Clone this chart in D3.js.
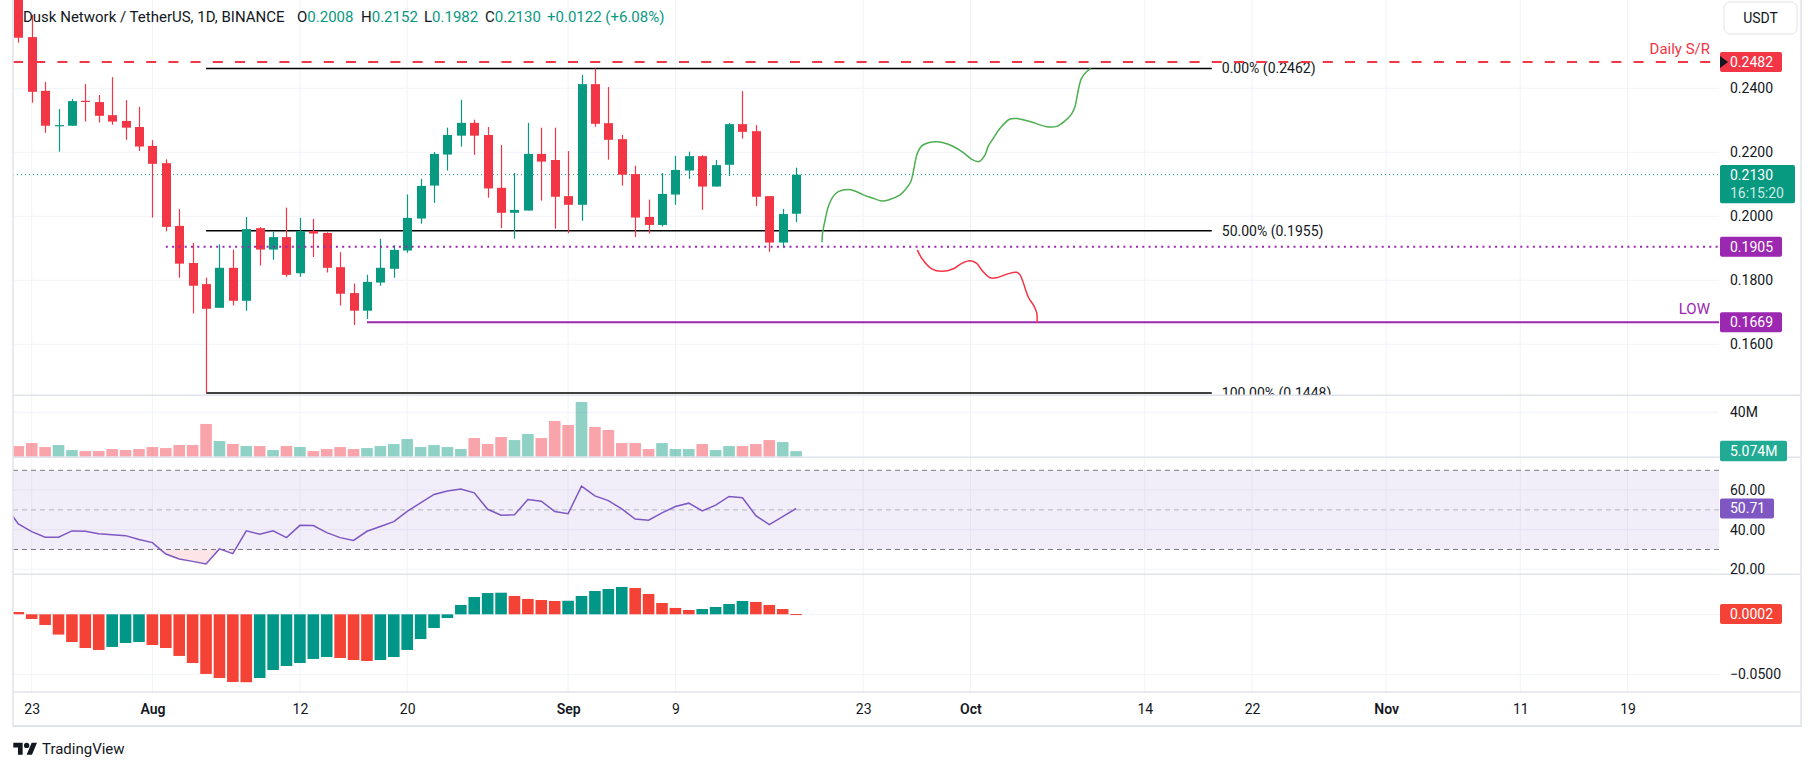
<!DOCTYPE html>
<html><head><meta charset="utf-8">
<script src="https://cdn.jsdelivr.net/npm/d3@7"></script>
<style>
body{margin:0;background:#fff;}
svg{display:block;font-family:Roboto,"Noto Sans",sans-serif;}
</style>
</head><body>
<svg id="c" width="1814" height="771"></svg>
<script>
// ---------------- DATA ----------------
const dates = ["2024-07-21","2024-07-22","2024-07-23","2024-07-24","2024-07-25","2024-07-26","2024-07-27","2024-07-28","2024-07-29","2024-07-30","2024-07-31",
"2024-08-01","2024-08-02","2024-08-03","2024-08-04","2024-08-05","2024-08-06","2024-08-07","2024-08-08","2024-08-09","2024-08-10",
"2024-08-11","2024-08-12","2024-08-13","2024-08-14","2024-08-15","2024-08-16","2024-08-17","2024-08-18","2024-08-19","2024-08-20",
"2024-08-21","2024-08-22","2024-08-23","2024-08-24","2024-08-25","2024-08-26","2024-08-27","2024-08-28","2024-08-29","2024-08-30","2024-08-31",
"2024-09-01","2024-09-02","2024-09-03","2024-09-04","2024-09-05","2024-09-06","2024-09-07","2024-09-08","2024-09-09","2024-09-10",
"2024-09-11","2024-09-12","2024-09-13","2024-09-14","2024-09-15","2024-09-16","2024-09-17","2024-09-18"];
const open = [0.2790,0.2720,0.2560,0.2392,0.2283,0.2283,0.2361,0.2357,0.2316,0.2298,0.2279,
0.2220,0.2166,0.1970,0.1854,0.1788,0.1714,0.1839,0.1736,0.1963,0.1896,
0.1935,0.1822,0.1954,0.1948,0.1841,0.1760,0.1705,0.1793,0.1836,0.1893,
0.1993,0.2096,0.2193,0.2252,0.2292,0.2254,0.2089,0.2011,0.2018,0.2195,0.2176,
0.2063,0.2036,0.2413,0.2291,0.2241,0.2132,0.1998,0.1973,0.2068,0.2143,
0.2188,0.2093,0.2161,0.2288,0.2266,0.2063,0.1918,0.2008];
const high = [0.2820,0.2760,0.2629,0.2420,0.2335,0.2367,0.2413,0.2379,0.2435,0.2363,0.2342,
0.2238,0.2178,0.2023,0.1917,0.1808,0.1912,0.1896,0.1998,0.1966,0.1953,
0.2027,0.1995,0.1992,0.1950,0.1888,0.1790,0.1817,0.1930,0.1910,0.2068,
0.2117,0.2201,0.2277,0.2364,0.2302,0.2279,0.2223,0.2135,0.2292,0.2277,0.2277,
0.2204,0.2442,0.2462,0.2404,0.2254,0.2158,0.2052,0.2135,0.2189,0.2202,
0.2191,0.2176,0.2292,0.2391,0.2285,0.2063,0.2023,0.2152];
const low = [0.2690,0.2543,0.2355,0.2261,0.2202,0.2283,0.2296,0.2293,0.2286,0.2239,0.2204,
0.1996,0.1953,0.1808,0.1696,0.1448,0.1714,0.1721,0.1705,0.1846,0.1864,
0.1811,0.1811,0.1873,0.1824,0.1721,0.1660,0.1679,0.1783,0.1808,0.1886,
0.1977,0.2042,0.2143,0.2218,0.2192,0.2058,0.1963,0.1930,0.2018,0.2049,0.1961,
0.1947,0.1986,0.2280,0.2177,0.2096,0.1935,0.1946,0.1968,0.2036,0.2117,
0.2020,0.2093,0.2126,0.2243,0.2032,0.1889,0.1902,0.1982];
const close = [0.2720,0.2558,0.2389,0.2283,0.2285,0.2360,0.2358,0.2314,0.2296,0.2277,0.2218,
0.2164,0.1967,0.1852,0.1783,0.1711,0.1839,0.1736,0.1960,0.1896,0.1935,
0.1817,0.1954,0.1946,0.1839,0.1758,0.1705,0.1795,0.1839,0.1895,0.1995,
0.2095,0.2195,0.2254,0.2292,0.2252,0.2087,0.2011,0.2020,0.2195,0.2171,0.2061,
0.2036,0.2413,0.2289,0.2239,0.2130,0.1996,0.1973,0.2070,0.2145,0.2188,
0.2093,0.2160,0.2288,0.2264,0.2061,0.1918,0.2007,0.2130];
const volumeM = [12.0,9.6,12.3,8.7,10.5,6.0,5.1,5.1,6.9,6.0,6.9,
8.7,7.8,10.5,10.5,29.5,14.1,11.4,9.6,9.6,6.0,
9.6,8.7,5.1,6.9,8.7,6.9,7.8,9.6,11.4,15.9,
8.7,10.5,8.7,6.9,16.8,11.4,17.7,15.0,20.5,16.8,32.2,
28.6,49.3,26.8,24.1,12.3,12.3,6.9,12.3,6.9,6.9,
11.4,6.0,9.6,9.6,11.4,15.0,13.2,5.074];
const rsi = [52.3,42.9,39.0,36.2,36.2,39.4,39.2,38.0,37.5,37.0,35.1,
33.5,27.7,25.2,24.0,22.7,30.3,27.9,39.4,37.7,39.4,
36.0,42.2,42.1,38.5,36.0,34.6,39.2,41.6,44.1,49.3,
53.5,57.8,59.5,60.6,58.6,50.3,47.3,47.5,55.2,54.4,49.2,
48.1,62.0,57.1,54.7,50.5,45.4,44.8,48.5,51.7,53.4,
49.5,52.4,56.8,56.1,47.1,42.6,46.6,50.71];
const macdHist = [0.0045,0.0019,-0.0039,-0.0089,-0.0169,-0.0231,-0.0281,-0.0297,-0.0272,-0.0239,-0.0231,
-0.0256,-0.0281,-0.0347,-0.0406,-0.0497,-0.0531,-0.0564,-0.0566,-0.0531,-0.0464,
-0.0431,-0.0406,-0.0372,-0.0356,-0.0364,-0.0381,-0.0389,-0.0381,-0.0356,-0.0297,
-0.0206,-0.0114,-0.0031,0.0078,0.0144,0.0177,0.0180,0.0153,0.0128,0.0119,0.0111,
0.0113,0.0153,0.0194,0.0211,0.0228,0.0219,0.0169,0.0094,0.0053,0.0036,
0.0044,0.0061,0.0086,0.0111,0.0103,0.0078,0.0044,0.0002];

const priceTicks = [0.16,0.18,0.20,0.22,0.24];
const volTicks = [40];
const rsiTicks = [20,40,60];
const macdTicks = [-0.05,0];
const timeTicks = ["2024-07-23","2024-08-01","2024-08-12","2024-08-20","2024-09-01","2024-09-09","2024-09-23","2024-10-01","2024-10-14","2024-10-22","2024-11-01","2024-11-11","2024-11-19"];
const timeTickLabels = ["23","Aug","12","20","Sep","9","23","Oct","14","22","Nov","11","19"];
const timeTickBold = [false,true,false,false,true,false,false,true,false,false,true,false,false];

// Fibonacci retracement
const fibLabels = ["0.00% (0.2462)","50.00% (0.1955)","100.00% (0.1448)"];
const fibPrices = [0.2462,0.1955,0.1448];
const fibStart = "2024-08-05", fibEnd = "2024-10-19";
// horizontal levels
const srLevel = 0.2482;
const supportLevel = 0.1905, supportStart = "2024-08-02";
const lowLevel = 0.1669, lowStart = "2024-08-17";
const lastPrice = 0.2130;
// projection paths (days after curveBase, price)
const curveBase = "2024-07-23";
const bullDays = [58.93,58.98,59.16,59.40,59.78,60.15,60.90,61.39,62.01,62.64,63.38,63.88,64.75,65.12,65.55,65.74,66.04,66.37,66.86,67.49,67.98,68.73,69.47,70.10,70.64,71.09,71.34,71.71,72.21,72.95,73.57,74.44,75.69,76.44,77.05,77.55,77.80,77.97,78.25,78.55,78.97];
const bullPrices = [0.1919,0.1949,0.1988,0.2030,0.2063,0.2077,0.2084,0.2079,0.2067,0.2058,0.2048,0.2051,0.2067,0.2082,0.2108,0.2139,0.2197,0.2220,0.2230,0.2233,0.2230,0.2218,0.2199,0.2178,0.2171,0.2192,0.2220,0.2244,0.2275,0.2304,0.2305,0.2296,0.2280,0.2281,0.2298,0.2320,0.2343,0.2379,0.2428,0.2447,0.2462];
const bearDays = [66.04,66.37,67.11,67.86,68.73,69.35,69.97,70.47,70.84,71.46,71.96,72.71,73.45,73.70,74.32,74.69,74.94,74.97];
const bearPrices = [0.1895,0.1869,0.1836,0.1828,0.1836,0.1853,0.1861,0.1853,0.1832,0.1808,0.1808,0.1819,0.1825,0.1817,0.1747,0.1723,0.1699,0.1667];

// ---------------- LAYOUT ----------------
const L = 13, R = 1719, AX = 1801;
const panes = {price:[0,395.3], vol:[395.3,457.3], rsi:[457.3,574.3], macd:[574.3,692]};
const UP = "#089981", DN = "#F23645";
const svg = d3.select("#c");
const parse = s => new Date(s + "T00:00:00Z");
const DAY = 86400000;

const x = d3.scaleUtc().domain([parse("2024-07-23"), parse("2024-09-09")]).range([31.7, 675.4]);
const dayW = x(parse("2024-07-24")) - x(parse("2024-07-23"));
const yP = d3.scaleLinear().domain([0.16,0.24]).range([344.3,88.3]);
const yV = d3.scaleLinear().domain([0,40]).range([456.7,412.3]);
const yR = d3.scaleLinear().domain([20,70]).range([569.3,470.3]);
const yM = d3.scaleLinear().domain([-0.05,0]).range([674.3,614.3]);

const data = dates.map((d,i)=>({date:parse(d),o:open[i],h:high[i],l:low[i],c:close[i],v:volumeM[i],r:rsi[i],m:macdHist[i],pm:i>0?macdHist[i-1]:macdHist[i]}));

const defs = svg.append("defs");
Object.entries(panes).forEach(([k,[a,b]])=>{
  defs.append("clipPath").attr("id","clip-"+k).append("rect").attr("x",L).attr("y",a).attr("width",R-L).attr("height",b-a);
});
defs.append("clipPath").attr("id","clip-os").append("rect").attr("x",L).attr("y",yR(30)).attr("width",R-L).attr("height",100);

// ---------------- GRID ----------------
const grid = svg.append("g").attr("stroke","#f0f3fa").attr("stroke-width",1);
timeTicks.forEach(t=>{
  grid.append("line").attr("x1",x(parse(t))).attr("x2",x(parse(t))).attr("y1",0).attr("y2",692);
});
priceTicks.forEach(v=>grid.append("line").attr("x1",L).attr("x2",R).attr("y1",yP(v)).attr("y2",yP(v)));
volTicks.forEach(v=>grid.append("line").attr("x1",L).attr("x2",R).attr("y1",yV(v)).attr("y2",yV(v)));
rsiTicks.forEach(v=>grid.append("line").attr("x1",L).attr("x2",R).attr("y1",yR(v)).attr("y2",yR(v)));
macdTicks.forEach(v=>grid.append("line").attr("x1",L).attr("x2",R).attr("y1",yM(v)).attr("y2",yM(v)));

// ---------------- PRICE PANE ----------------
const gp = svg.append("g").attr("clip-path","url(#clip-price)");
// current price dotted
gp.append("line").attr("x1",L).attr("x2",R).attr("y1",yP(lastPrice)).attr("y2",yP(lastPrice))
  .attr("stroke",UP).attr("stroke-width",1).attr("stroke-dasharray","1,3");
// fib lines
fibPrices.forEach((p,i)=>{
  gp.append("line").attr("x1",x(parse(fibStart))).attr("x2",x(parse(fibEnd))).attr("y1",yP(p)).attr("y2",yP(p))
    .attr("stroke","#000").attr("stroke-width",1.5);
  gp.append("text").attr("x",x(parse(fibEnd))+10).attr("y",yP(p)).attr("dy","0.35em")
    .attr("font-size",14).attr("fill","#131722").text(fibLabels[i]);
});
// candles
const cg = gp.append("g");
data.forEach(d=>{
  const col = d.c>=d.o?UP:DN;
  const cx = Math.round(x(d.date))+0.5;
  cg.append("line").attr("x1",cx).attr("x2",cx).attr("y1",yP(d.h)).attr("y2",yP(d.l)).attr("stroke",col).attr("stroke-width",1.2);
  const top = yP(Math.max(d.o,d.c)), bot = yP(Math.min(d.o,d.c));
  cg.append("rect").attr("x",cx-4.5).attr("y",top).attr("width",9).attr("height",Math.max(1.2,bot-top)).attr("fill",col);
});
// support dotted purple
gp.append("line").attr("x1",x(parse(supportStart))).attr("x2",R).attr("y1",yP(supportLevel)).attr("y2",yP(supportLevel))
  .attr("stroke","#9c27b0").attr("stroke-width",2).attr("stroke-dasharray","2,4.3");
// low line
gp.append("line").attr("x1",x(parse(lowStart))).attr("x2",R).attr("y1",yP(lowLevel)).attr("y2",yP(lowLevel))
  .attr("stroke","#9c27b0").attr("stroke-width",2);
// S/R dashed
gp.append("line").attr("x1",L).attr("x2",R).attr("y1",yP(srLevel)).attr("y2",yP(srLevel))
  .attr("stroke","#F23645").attr("stroke-width",2).attr("stroke-dasharray","10,12.2");
gp.append("text").attr("x",1710).attr("y",yP(srLevel)-13).attr("dy","0.35em").attr("text-anchor","end")
  .attr("font-size",15).attr("fill","#F23645").text("Daily S/R");
gp.append("text").attr("x",1710).attr("y",yP(lowLevel)-13).attr("dy","0.35em").attr("text-anchor","end")
  .attr("font-size",15).attr("fill","#9c27b0").text("LOW");
// projections
const base = parse(curveBase).getTime();
const line = d3.line().x(d=>x(new Date(base+d[0]*DAY))).y(d=>yP(d[1])).curve(d3.curveCatmullRom.alpha(0.5));
gp.append("path").attr("d",line(bullDays.map((d,i)=>[d,bullPrices[i]]))).attr("fill","none").attr("stroke","#4caf50").attr("stroke-width",1.5);
gp.append("path").attr("d",line(bearDays.map((d,i)=>[d,bearPrices[i]]))).attr("fill","none").attr("stroke","#F23645").attr("stroke-width",1.5);

// ---------------- VOLUME ----------------
const gv = svg.append("g").attr("clip-path","url(#clip-vol)");
data.forEach(d=>{
  const cx = x(d.date);
  gv.append("rect").attr("x",cx-5.8).attr("width",11.6).attr("y",yV(d.v)).attr("height",yV(0)-yV(d.v))
    .attr("fill",d.c>=d.o?"rgba(8,153,129,0.45)":"rgba(242,54,69,0.45)");
});

// ---------------- RSI ----------------
const gr = svg.append("g").attr("clip-path","url(#clip-rsi)");
gr.append("rect").attr("x",L).attr("width",R-L).attr("y",yR(70)).attr("height",yR(30)-yR(70)).attr("fill","rgba(126,87,194,0.1)");
[70,30].forEach(v=>gr.append("line").attr("x1",L).attr("x2",R).attr("y1",yR(v)).attr("y2",yR(v))
  .attr("stroke","#787b86").attr("stroke-width",1).attr("stroke-dasharray","5,4"));
gr.append("line").attr("x1",L).attr("x2",R).attr("y1",yR(50)).attr("y2",yR(50))
  .attr("stroke","#b2b5be").attr("stroke-width",1).attr("stroke-dasharray","5,4");
const area = d3.area().x(d=>x(d.date)).y0(yR(30)).y1(d=>yR(d.r));
gr.append("g").attr("clip-path","url(#clip-os)").append("path").attr("d",area(data)).attr("fill","rgba(242,54,69,0.13)");
gr.append("path").attr("d",d3.line().x(d=>x(d.date)).y(d=>yR(d.r))(data)).attr("fill","none").attr("stroke","#7e57c2").attr("stroke-width",1.5);

// ---------------- MACD ----------------
const gm = svg.append("g").attr("clip-path","url(#clip-macd)");
data.forEach(d=>{
  const cx = x(d.date);
  const y0 = yM(0), y1 = yM(d.m);
  gm.append("rect").attr("x",cx-5.8).attr("width",11.6).attr("y",Math.min(y0,y1)).attr("height",Math.max(1,Math.abs(y1-y0)))
    .attr("fill",d.m>=d.pm?"#009688":"#F44336");
});

// ---------------- FRAME / SEPARATORS ----------------
const fr = svg.append("g").attr("stroke","#e0e3eb");
[395.3,457.3,574.3,692].forEach(y=>fr.append("line").attr("x1",L).attr("x2",AX).attr("y1",y).attr("y2",y).attr("stroke-width",1.5));
fr.append("line").attr("x1",L).attr("x2",AX).attr("y1",726).attr("y2",726).attr("stroke-width",2);
fr.append("line").attr("x1",L).attr("x2",L).attr("y1",0).attr("y2",727).attr("stroke-width",1.5);
fr.append("line").attr("x1",AX).attr("x2",AX).attr("y1",0).attr("y2",727).attr("stroke-width",1.5);

// ---------------- AXES ----------------
function rightAxis(scale, ticks, fmt){
  const g = svg.append("g").attr("transform",`translate(${R},0)`)
    .call(d3.axisRight(scale).tickValues(ticks).tickFormat(fmt).tickSize(0).tickPadding(11));
  g.select(".domain").remove();
  g.selectAll("text").attr("font-size",14).attr("fill","#131722").attr("font-family","Roboto,'Noto Sans',sans-serif");
  return g;
}
rightAxis(yP, priceTicks, d3.format(".4f"));
rightAxis(yV, volTicks, d=>d+"M");
rightAxis(yR, rsiTicks, d3.format(".2f"));
rightAxis(yM, macdTicks.filter(v=>v!==0), d=>d3.format(".4f")(d).replace("-","−"));

const gx = svg.append("g").attr("transform","translate(0,692)")
  .call(d3.axisBottom(x).tickValues(timeTicks.map(parse)).tickFormat((d,i)=>timeTickLabels[i]).tickSize(0).tickPadding(12));
gx.select(".domain").remove();
gx.selectAll("text").attr("font-size",14).attr("fill","#131722").attr("font-family","Roboto,'Noto Sans',sans-serif")
  .attr("font-weight",(d,i)=>timeTickBold[i]?600:400);

// badges
function badge(y, h, w, fill, lines){
  svg.append("rect").attr("x",1720).attr("y",y-h/2).attr("width",w).attr("height",h).attr("rx",2).attr("fill",fill);
  lines.forEach((t,i)=>{
    svg.append("text").attr("x",1730).attr("y",y-h/2+10+i*18.5).attr("dy","0.35em").attr("font-size",14)
      .attr("fill",i===0?"#fff":"rgba(255,255,255,0.8)").text(t);
  });
}
badge(yP(srLevel),20,62,"#F23645",[d3.format(".4f")(srLevel)]);
svg.append("path").attr("d",`M1720,${yP(srLevel)-6}L1728,${yP(srLevel)}L1720,${yP(srLevel)+6}Z`).attr("fill","#131722");
svg.append("rect").attr("x",1720).attr("y",165).attr("width",75).attr("height",38.3).attr("rx",2).attr("fill",UP);
svg.append("text").attr("x",1730).attr("y",yP(lastPrice)).attr("dy","0.35em").attr("font-size",14).attr("fill","#fff").text(d3.format(".4f")(lastPrice));
svg.append("text").attr("x",1730).attr("y",193.5).attr("dy","0.35em").attr("font-size",14).attr("fill","rgba(255,255,255,0.8)").text("16:15:20");
badge(yP(supportLevel),20,62,"#9c27b0",[d3.format(".4f")(supportLevel)]);
badge(yP(lowLevel),20,62,"#9c27b0",[d3.format(".4f")(lowLevel)]);
badge(yV(volumeM[volumeM.length-1]),20.5,67,"#22ab94",[d3.format(".3f")(volumeM[volumeM.length-1])+"M"]);
badge(yR(rsi[rsi.length-1]),20,54,"#7e57c2",[d3.format(".2f")(rsi[rsi.length-1])]);
badge(yM(macdHist[macdHist.length-1]),20,62,"#F44336",[d3.format(".4f")(macdHist[macdHist.length-1])]);

// USDT box
svg.append("rect").attr("x",1724).attr("y",2).attr("width",73).attr("height",32).attr("rx",6).attr("fill","#fff").attr("stroke","#e0e3eb");
svg.append("text").attr("x",1760.5).attr("y",18).attr("dy","0.35em").attr("text-anchor","middle").attr("font-size",14).attr("fill","#131722").text("USDT");

// header legend
const last = data[data.length-1];
const hdr = svg.append("text").attr("y",17).attr("dy","0.35em").attr("font-size",15).attr("fill","#131722");
hdr.append("tspan").attr("x",23).text("Dusk Network / TetherUS, 1D, BINANCE");
const ohlc = [["O",last.o,297],["H",last.h,361],["L",last.l,424],["C",last.c,485]];
ohlc.forEach(([k,v,px])=>{
  hdr.append("tspan").attr("x",px).text(k);
  hdr.append("tspan").attr("fill",UP).text(d3.format(".4f")(v));
});
const chg = last.c - data[data.length-2].c + (data[data.length-2].c - last.o); // close - open of prior close
hdr.append("tspan").attr("x",547).attr("fill",UP).text("+0.0122 (+6.08%)");

// TradingView logo
const logo = svg.append("g").attr("transform","translate(13.3,740.1) scale(0.667)").attr("fill","#131722");
logo.append("path").attr("d","M14 22H7V11H0V4h14v18zM28 22h-8l7.5-18h8L28 22z");
logo.append("circle").attr("cx",20).attr("cy",8).attr("r",4);
svg.append("text").attr("x",42).attr("y",749).attr("dy","0.35em").attr("font-size",15).attr("fill","#131722").text("TradingView");
</script>
</body></html>
